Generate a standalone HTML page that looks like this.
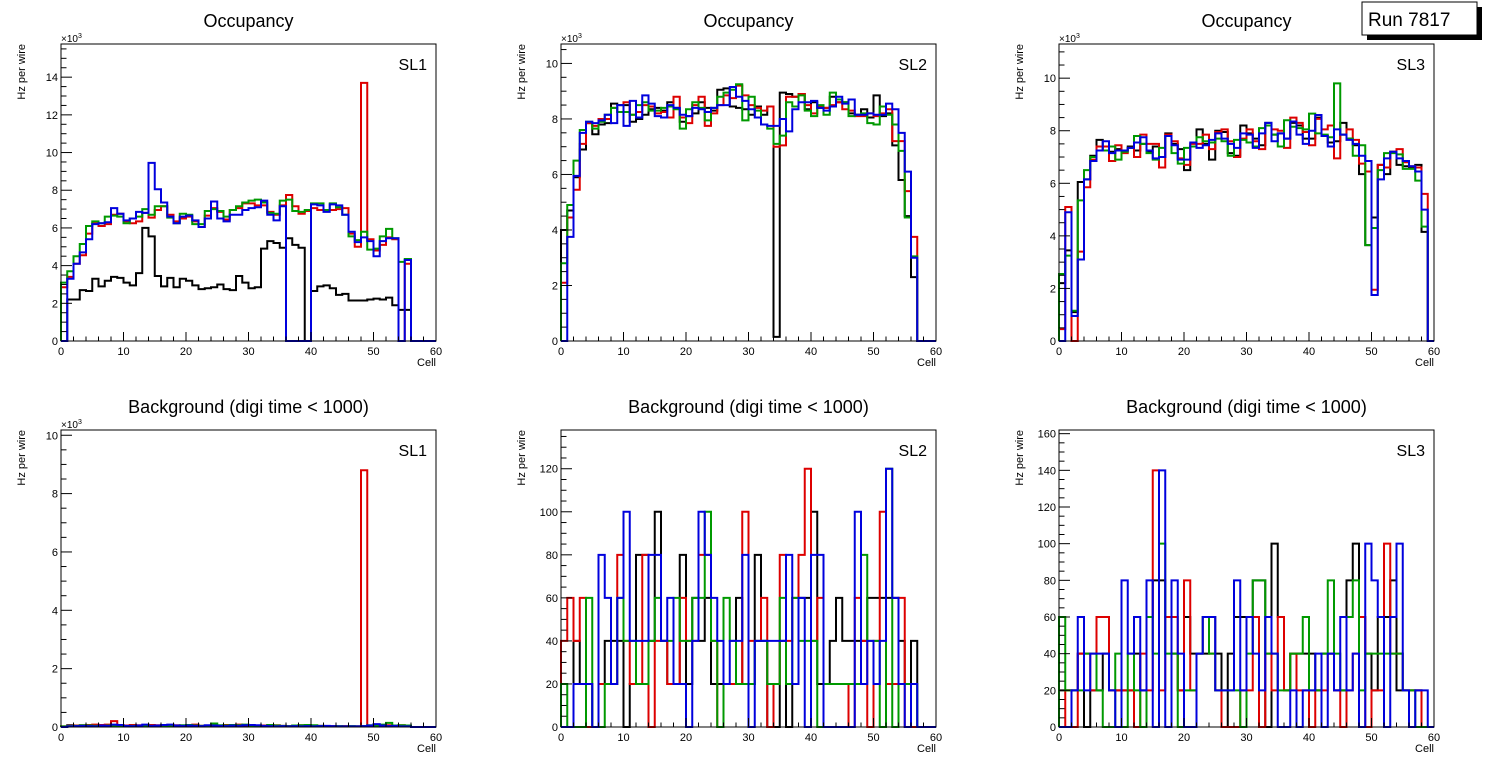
<!DOCTYPE html>
<html><head><meta charset="utf-8"><style>
html,body{margin:0;padding:0;background:#fff;}
svg{display:block;font-family:"Liberation Sans",sans-serif;}
</style></head><body>
<svg id="c" width="1496" height="772" viewBox="0 0 1496 772" xmlns="http://www.w3.org/2000/svg">
<g>
<rect x="1367" y="7" width="115" height="33" fill="#000"/>
<rect x="1362" y="2" width="115" height="33" fill="#fff" stroke="#000" stroke-width="1"/>
<text x="1368" y="26" font-size="19">Run 7817</text>
</g>
</svg>
<script>
const colors=["#000000","#dd0000","#009900","#0000dd"];
// Occupancy SL1 (kHz)
const occ1_black=[0,2.2,2.2,2.7,2.65,3.3,2.9,3.2,3.4,3.35,3.1,2.95,3.6,6.0,5.55,3.45,2.9,3.35,2.85,3.3,3.2,2.95,2.75,2.8,2.85,3.0,2.75,2.7,3.45,3.1,2.8,2.85,4.9,5.3,5.2,4.95,5.45,5.1,4.95,0,2.65,2.9,2.95,2.8,2.45,2.5,2.15,2.15,2.15,2.2,2.25,2.2,2.3,1.9,1.65,1.65,0,0,0,0];
const occ1_red=[2.85,3.4,4.1,4.55,5.7,6.25,6.1,6.2,6.7,6.75,6.35,6.25,6.35,6.8,6.55,6.95,7.15,6.7,6.35,6.5,6.6,6.35,6.05,6.65,7.05,6.85,6.45,6.95,7.05,7.3,7.3,7.2,7.2,6.85,6.7,7.2,7.75,7.15,6.75,6.9,7.05,6.95,6.95,6.95,7.0,7.05,5.7,5.0,13.7,5.4,4.8,5.1,5.5,5.4,0,4.1,0,0,0,0];
const occ1_green=[3.1,3.7,4.5,5.15,6.1,6.35,6.25,6.6,6.65,6.6,6.25,6.5,6.6,7.0,6.7,7.15,7.15,6.55,6.25,6.75,6.7,6.2,6.2,6.9,7.0,6.9,6.6,6.95,7.15,7.35,7.45,7.5,7.35,6.8,6.75,7.45,7.5,6.9,6.85,6.95,7.3,7.3,6.95,7.3,7.1,6.7,5.55,5.35,5.8,4.85,4.9,5.55,5.95,5.45,4.2,4.35,0,0,0,0];
const occ1_blue=[0,3.3,4.1,4.7,5.4,6.2,6.25,6.3,7.05,6.75,6.4,6.5,6.85,6.8,9.45,8.05,7.35,6.6,6.25,6.6,6.65,6.4,6.05,6.5,7.4,6.5,6.35,6.7,6.7,6.95,7.05,7.1,7.45,6.7,6.4,7.15,0,0,0,0,7.25,7.2,6.85,7.25,7.2,6.7,5.8,5.25,5.5,5.3,4.5,5.3,5.45,5.45,0,4.3,0,0,0,0];
// Occupancy SL2
const occ2_black=[4.0,4.7,5.9,6.9,7.85,7.45,7.8,7.85,8.55,8.5,8.5,7.9,8.0,8.15,8.35,8.4,8.3,8.6,8.4,7.9,8.1,8.2,8.6,8.4,8.3,9.05,9.1,8.45,8.4,8.35,8.15,8.45,8.15,8.45,0.15,8.95,8.9,8.8,8.9,8.35,8.6,8.4,8.4,8.8,8.6,8.6,8.2,8.15,8.35,8.05,8.85,8.1,8.2,7.05,5.8,4.5,2.3,0,0,0];
const occ2_red=[2.1,4.45,5.45,7.1,7.85,7.75,8.0,8.0,8.4,8.25,8.6,8.15,8.25,8.5,8.45,8.2,8.25,8.05,8.8,8.05,7.85,8.5,8.8,7.75,8.2,8.5,8.85,8.75,9.2,8.85,8.5,8.4,8.3,8.45,7.0,7.05,8.8,8.8,8.9,8.5,8.2,8.45,8.4,8.5,8.6,8.35,8.3,8.1,8.1,8.2,8.1,8.2,8.35,7.2,7.2,5.4,3.75,0,0,0];
const occ2_green=[2.8,4.9,6.5,7.6,7.9,7.65,7.9,8.15,8.4,8.25,8.25,8.15,8.5,8.6,8.3,8.3,8.4,8.45,8.35,7.65,8.35,8.6,8.4,7.95,8.4,8.8,8.95,9.05,9.25,7.95,8.8,8.3,7.8,7.65,7.1,7.4,8.6,8.45,8.85,8.3,8.1,8.5,8.15,8.95,8.7,8.6,8.1,8.15,8.2,7.85,7.8,8.45,8.15,7.8,6.85,4.45,3.05,0,0,0];
const occ2_blue=[0,3.75,5.95,7.5,7.9,7.85,7.95,8.15,7.85,8.5,7.75,8.65,8.05,8.85,8.55,8.1,8.05,8.5,8.4,8.15,8.1,8.4,8.35,8.25,8.4,8.5,8.5,9.15,8.8,8.65,8.35,8.05,7.8,7.75,7.75,8.0,7.55,8.35,8.6,8.6,8.65,8.4,8.3,8.45,8.8,8.55,8.7,8.15,8.15,8.2,8.15,8.15,8.55,8.35,7.5,6.1,3.0,0,0,0];
// Occupancy SL3
const occ3_black=[2.2,3.45,1.1,6.05,6.15,7.05,7.65,7.25,7.2,7.3,7.25,7.4,7.25,7.5,7.2,7.4,7.0,7.9,7.5,7.3,6.5,7.4,8.05,7.5,6.9,8.0,7.95,7.15,7.05,8.2,7.9,7.7,7.45,8.3,7.85,7.9,7.7,8.3,8.2,7.7,7.7,8.5,7.8,7.55,7.6,8.3,7.7,7.45,6.35,3.65,4.7,6.7,6.35,7.2,6.7,6.65,6.6,6.7,4.15,0];
const occ3_red=[0.45,5.1,0,3.4,5.85,6.9,7.4,7.4,6.85,7.45,7.15,7.35,7.0,7.85,7.5,7.5,6.6,7.85,7.6,6.95,6.7,7.5,7.5,7.85,7.3,7.95,8.05,7.6,7.0,7.7,8.05,7.6,7.3,8.2,8.05,8.0,7.35,8.5,8.3,7.95,7.45,8.45,8.05,8.2,6.95,7.85,8.05,7.65,6.75,6.45,1.95,6.7,6.6,7.2,7.3,6.8,6.65,6.6,5.6,0];
const occ3_green=[2.55,3.25,1.15,5.35,6.5,7.0,7.25,7.25,7.4,6.9,7.2,7.35,7.8,7.5,7.15,6.9,7.35,7.8,7.15,6.75,7.35,7.4,7.75,7.6,7.55,7.7,7.6,7.05,7.65,7.65,7.55,7.4,8.1,8.2,7.85,7.4,8.4,8.15,8.1,8.05,8.65,7.9,7.85,7.75,9.8,7.85,7.7,7.05,7.45,3.65,4.3,6.5,7.15,7.15,7.1,6.55,6.55,6.1,4.35,0];
const occ3_blue=[0,4.9,0.95,3.1,6.15,6.85,7.25,7.6,7.15,7.25,7.25,7.35,7.55,7.75,7.25,6.95,7.0,7.8,7.45,6.9,6.9,7.55,7.35,7.45,7.65,7.9,7.7,7.5,7.35,7.9,7.85,7.35,7.9,8.3,7.6,7.9,7.7,8.35,7.85,7.5,8.0,8.6,7.8,7.4,8.05,7.85,7.65,7.5,7.05,6.85,1.75,6.15,6.95,7.2,6.95,6.85,6.65,6.45,5.0,0];
// Background SL1 (kHz)
const bkg1_black=[0,0.06,0.04,0.05,0.04,0.06,0.05,0.04,0.05,0.03,0.04,0.04,0.03,0.05,0.04,0.04,0.05,0.04,0.03,0.04,0.05,0.04,0.04,0.03,0.04,0.05,0.04,0.03,0.05,0.04,0.04,0.03,0.04,0.04,0.03,0.03,0.02,0.03,0.03,0.02,0.03,0.03,0.02,0.02,0.02,0.02,0.02,0.02,0.02,0.02,0.03,0.02,0.03,0.02,0.02,0.02,0,0,0,0];
const bkg1_red=[0.02,0.04,0.05,0.06,0.07,0.08,0.07,0.08,0.2,0.06,0.05,0.07,0.06,0.04,0.07,0.06,0.05,0.04,0.06,0.05,0.07,0.08,0.04,0.05,0.06,0.05,0.07,0.06,0.08,0.06,0.05,0.04,0.05,0.07,0.06,0.04,0.03,0.05,0.06,0.04,0.05,0.04,0.03,0.03,0.02,0.03,0.02,0.02,8.8,0.05,0.08,0.04,0.06,0.05,0.06,0.04,0,0,0,0];
const bkg1_green=[0.02,0.03,0.04,0.06,0.05,0.04,0.03,0.05,0.04,0.05,0.03,0.04,0.05,0.03,0.04,0.05,0.04,0.03,0.05,0.06,0.07,0.05,0.04,0.05,0.12,0.06,0.05,0.07,0.06,0.08,0.04,0.05,0.03,0.07,0.05,0.04,0.03,0.05,0.06,0.07,0.06,0.04,0.03,0.02,0.03,0.02,0.03,0.02,0.03,0.06,0.05,0.08,0.14,0.05,0.06,0.05,0,0,0,0];
const bkg1_blue=[0,0.02,0.03,0.04,0.03,0.02,0.05,0.04,0.08,0.07,0.04,0.03,0.05,0.08,0.04,0.05,0.07,0.08,0.05,0.04,0.05,0.04,0.03,0.06,0.05,0.04,0.03,0.05,0.04,0.06,0.07,0.06,0.04,0.03,0.02,0.03,0.02,0.03,0.02,0.03,0.02,0.03,0.04,0.03,0.02,0.02,0.02,0.02,0.03,0.05,0.1,0.05,0.03,0.04,0.02,0.02,0,0,0,0];
// Background SL2 (Hz)
const bkg2_black=[0,0,40,20,20,0,20,40,40,40,0,20,80,80,40,100,40,20,20,80,20,60,40,60,20,20,20,20,60,20,20,80,40,0,0,40,0,20,60,60,100,20,20,40,60,40,40,40,40,60,60,60,60,60,40,20,40,0,0,0];
const bkg2_red=[40,60,40,60,0,0,20,20,20,80,40,20,20,80,0,40,40,20,20,60,40,40,80,80,40,0,20,20,20,100,40,40,60,0,20,80,40,60,80,120,40,60,20,20,20,20,0,60,40,0,40,100,20,20,60,0,0,0,0,0];
const bkg2_green=[20,0,0,0,60,0,0,20,20,60,40,40,20,20,40,60,40,40,60,40,40,60,60,100,40,0,60,40,20,20,20,40,40,20,20,60,20,60,40,40,40,0,20,20,20,20,20,20,80,40,40,0,120,0,20,20,20,0,0,0];
const bkg2_blue=[0,0,20,20,20,0,80,60,20,60,100,40,40,40,80,80,40,60,20,20,0,40,100,80,60,40,20,40,40,80,0,40,40,40,40,40,80,20,60,0,80,80,0,0,0,0,0,100,20,40,20,40,120,60,20,0,20,0,0,0];
// Background SL3 (Hz)
const bkg3_black=[20,20,20,40,0,20,20,40,20,20,20,20,40,20,60,80,80,60,40,20,60,40,40,40,60,40,0,40,60,60,60,80,80,0,100,60,20,40,40,40,40,20,40,40,20,20,80,100,60,40,20,60,60,80,20,20,20,20,0,0];
const bkg3_red=[0,20,0,40,40,20,60,60,20,20,20,20,0,40,20,140,20,60,60,20,80,20,40,60,40,20,0,0,0,20,20,60,0,40,20,60,20,40,20,20,0,20,20,40,20,0,20,40,60,0,20,20,100,40,40,20,20,20,0,0];
const bkg3_green=[60,20,20,20,40,40,20,0,0,40,0,40,20,0,60,40,100,40,40,0,20,20,40,60,40,20,20,20,20,0,40,80,80,40,40,20,20,40,40,60,20,20,40,80,40,20,60,80,20,40,40,40,40,40,40,20,20,0,0,0];
const bkg3_blue=[0,0,20,60,20,40,40,40,20,0,80,40,60,20,80,0,140,0,80,40,0,0,40,60,60,20,20,20,80,20,60,40,20,60,40,0,0,20,0,20,20,40,0,40,20,60,20,40,0,100,80,60,0,60,100,20,0,20,20,0];

const xTicks=[0,10,20,30,40,50,60];
const occTitle="Occupancy", bkgTitle="Background (digi time < 1000)";

const NS="http://www.w3.org/2000/svg";
const svg=document.getElementById('c');
function mk(tag,attrs,parent){const e=document.createElementNS(NS,tag);for(const k in attrs)e.setAttribute(k,attrs[k]);(parent||svg).appendChild(e);return e;}

const panels=[
 {x0:61,y0:44,y1:341,ymax:15.76,maj:2,min:0.5,exp:true,title:occTitle,sl:"SL1",data:[occ1_black,occ1_red,occ1_green,occ1_blue],name:"occupancy-sl1"},
 {x0:561,y0:44,y1:341,ymax:10.7,maj:2,min:0.5,exp:true,title:occTitle,sl:"SL2",data:[occ2_black,occ2_red,occ2_green,occ2_blue],name:"occupancy-sl2"},
 {x0:1059,y0:44,y1:341,ymax:11.3,maj:2,min:0.5,exp:true,title:occTitle,sl:"SL3",data:[occ3_black,occ3_red,occ3_green,occ3_blue],name:"occupancy-sl3"},
 {x0:61,y0:430,y1:727,ymax:10.18,maj:2,min:0.5,exp:true,title:bkgTitle,sl:"SL1",data:[bkg1_black,bkg1_red,bkg1_green,bkg1_blue],name:"background-sl1"},
 {x0:561,y0:430,y1:727,ymax:138,maj:20,min:5,exp:false,title:bkgTitle,sl:"SL2",data:[bkg2_black,bkg2_red,bkg2_green,bkg2_blue],name:"background-sl2"},
 {x0:1059,y0:430,y1:727,ymax:162,maj:20,min:5,exp:false,title:bkgTitle,sl:"SL3",data:[bkg3_black,bkg3_red,bkg3_green,bkg3_blue],name:"background-sl3"}
];
const seriesNames=["black","red","green","blue"];
panels.forEach(p=>{
 const W=375;
 const g=mk('g',{});
 
 
 const X=v=>p.x0+v/60*W;
 const Y=v=>p.y1-Math.min(v,p.ymax)/p.ymax*(p.y1-p.y0);
 const t=mk('text',{x:p.x0+W/2,y:p.y0-17,'font-size':18,'text-anchor':'middle'},g);t.textContent=p.title;
 
 
 p.data.forEach((arr,si)=>{
  let d='M'+X(0)+','+Y(0);
  arr.forEach((v,i)=>{d+=' L'+X(i)+','+Y(v)+' L'+X(i+1)+','+Y(v);});
  d+=' L'+X(60)+','+Y(0);
  const pa=mk('path',{d:d,fill:'none',stroke:colors[si],'stroke-width':2,'stroke-linejoin':'miter'},g);
  
  
 });
 const fr=mk('rect',{x:p.x0,y:p.y0,width:W,height:p.y1-p.y0,fill:'none',stroke:'#000','stroke-width':1},g);
 
 
 for(let v=0;v<=60;v+=2){const maj=v%10===0;mk('line',{x1:X(v),x2:X(v),y1:p.y1,y2:p.y1-(maj?9:4.5),stroke:'#000','stroke-width':1},g);}
 xTicks.forEach(v=>{const l=mk('text',{x:X(v),y:p.y1+14,'font-size':11,'text-anchor':'middle'},g);l.textContent=v;
  
  });
 const xl=mk('text',{x:p.x0+W,y:p.y1+25,'font-size':11,'text-anchor':'end'},g);xl.textContent='Cell';
 
 
 for(let v=0;v<=p.ymax+1e-9;v+=p.min){const maj=Math.abs(v/p.maj-Math.round(v/p.maj))<1e-6;mk('line',{x1:p.x0,x2:p.x0+(maj?11:5.5),y1:Y(v),y2:Y(v),stroke:'#000','stroke-width':1},g);
  if(maj){const l=mk('text',{x:p.x0-3,y:Y(v)+4,'font-size':11,'text-anchor':'end'},g);l.textContent=Math.round(v);
   
   }}
 if(p.exp){const e=mk('text',{x:p.x0,y:p.y0-2,'font-size':10},g);e.innerHTML='×10<tspan dy="-4" font-size="7">3</tspan>';
  
  }
 const yl=mk('text',{transform:'translate('+(p.x0-36)+','+(p.y0)+') rotate(-90)','font-size':11,'text-anchor':'end'},g);yl.textContent='Hz per wire';
 
 
 const s=mk('text',{x:p.x0+W-9,y:p.y0+26,'font-size':16,'text-anchor':'end'},g);s.textContent=p.sl;
 
 
});
</script>
</body></html>
